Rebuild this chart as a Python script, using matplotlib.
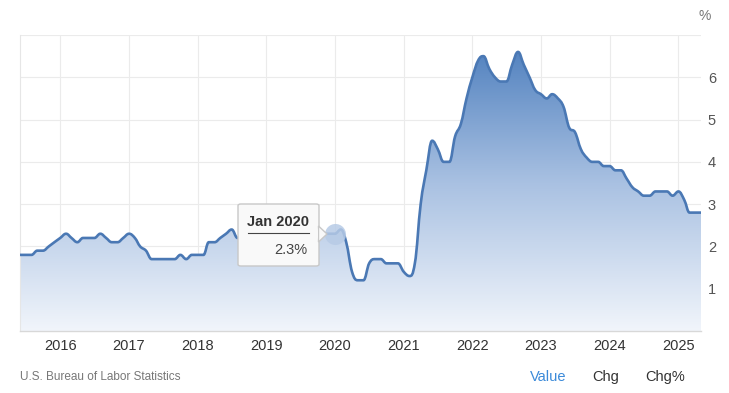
import numpy as np
import pandas as pd
import matplotlib
matplotlib.use("Agg")
import matplotlib.pyplot as plt
import matplotlib.dates as mdates
from matplotlib.colors import LinearSegmentedColormap
from matplotlib.patches import Polygon, FancyBboxPatch, PathPatch
from matplotlib.path import Path

plt.rcParams['font.family'] = ['Liberation Sans', 'DejaVu Sans']

# US core inflation rate, monthly, Jun 2015 - May 2025 (%)
start_month = "2015-06-01"
values = [
    1.8, 1.8, 1.8, 1.9, 1.9, 2.0, 2.1,                              # 2015 Jun-Dec
    2.2, 2.3, 2.2, 2.1, 2.2, 2.2, 2.2, 2.3, 2.2, 2.1, 2.1, 2.2,     # 2016
    2.3, 2.2, 2.0, 1.9, 1.7, 1.7, 1.7, 1.7, 1.7, 1.8, 1.7, 1.8,     # 2017
    1.8, 1.8, 2.1, 2.1, 2.2, 2.3, 2.4, 2.2, 2.2, 2.1, 2.2, 2.2,     # 2018
    2.2, 2.1, 2.0, 2.1, 2.0, 2.1, 2.2, 2.4, 2.4, 2.3, 2.3, 2.3,     # 2019
    2.3, 2.4, 2.1, 1.4, 1.2, 1.2, 1.6, 1.7, 1.7, 1.6, 1.6, 1.6,     # 2020
    1.4, 1.3, 1.6, 3.0, 3.8, 4.5, 4.3, 4.0, 4.0, 4.6, 4.9, 5.5,     # 2021
    6.0, 6.4, 6.5, 6.2, 6.0, 5.9, 5.9, 6.3, 6.6, 6.3, 6.0, 5.7,     # 2022
    5.6, 5.5, 5.6, 5.5, 5.3, 4.8, 4.7, 4.3, 4.1, 4.0, 4.0, 3.9,     # 2023
    3.9, 3.8, 3.8, 3.6, 3.4, 3.3, 3.2, 3.2, 3.3, 3.3, 3.3, 3.2,     # 2024
    3.3, 3.1, 2.8, 2.8, 2.8,                                        # 2025 Jan-May
]
dates = pd.date_range(start_month, periods=len(values), freq="MS")
year_ticks = list(range(2016, 2026))
y_ticks = [1, 2, 3, 4, 5, 6]
tooltip_date = "2020-01-01"
tooltip_label = "Jan 2020"
tooltip_value = 2.3
source = "U.S. Bureau of Labor Statistics"
buttons = ["Value", "Chg", "Chg%"]


def spline_path(x, y, smoothing=1.5):
    """Bezier path through the points, highcharts-style spline."""
    n = len(x)
    verts = [(x[0], y[0])]
    codes = [Path.MOVETO]
    left = [(x[0], y[0])] * n
    right = [(x[-1], y[-1])] * n
    for i in range(1, n - 1):
        lx = (smoothing * x[i] + x[i - 1]) / (smoothing + 1)
        ly = (smoothing * y[i] + y[i - 1]) / (smoothing + 1)
        rx = (smoothing * x[i] + x[i + 1]) / (smoothing + 1)
        ry = (smoothing * y[i] + y[i + 1]) / (smoothing + 1)
        corr = ((ry - ly) * (rx - x[i])) / (rx - lx) + y[i] - ry
        ly += corr
        ry += corr
        if ly > max(y[i - 1], y[i]):
            ly = max(y[i - 1], y[i]); ry = 2 * y[i] - ly
        elif ly < min(y[i - 1], y[i]):
            ly = min(y[i - 1], y[i]); ry = 2 * y[i] - ly
        if ry > max(y[i + 1], y[i]):
            ry = max(y[i + 1], y[i]); ly = 2 * y[i] - ry
        elif ry < min(y[i + 1], y[i]):
            ry = min(y[i + 1], y[i]); ly = 2 * y[i] - ry
        left[i] = (lx, ly)
        right[i] = (rx, ry)
    right[0] = (x[0], y[0])
    left[-1] = (x[-1], y[-1])
    for i in range(1, n):
        verts += [right[i - 1], left[i], (x[i], y[i])]
        codes += [Path.CURVE4] * 3
    return verts, codes


W, H = 729, 393
fig = plt.figure(figsize=(W / 100, H / 100), dpi=100)
x0, x1, ytop, ybot = 20, 701, 35, 331
ax = fig.add_axes([x0 / W, 1 - ybot / H, (x1 - x0) / W, (ybot - ytop) / H])

xs = mdates.date2num(dates)
ys = np.array(values)
ax.set_xlim(xs[0], xs[-1])
ax.set_ylim(0, 7)

verts, codes = spline_path(list(xs), list(ys))
line_path = Path(verts, codes)
area_path = Path(verts + [(xs[-1], 0), (xs[0], 0), (xs[0], 0)],
                 codes + [Path.LINETO, Path.LINETO, Path.CLOSEPOLY])

# gradient fill under the line
cmap = LinearSegmentedColormap.from_list("fill", ["#f1f5fb", "#a9c1e2", "#4a7cbc"])
grad = np.linspace(0, 1, 256).reshape(-1, 1)
im = ax.imshow(grad, cmap=cmap, aspect="auto", origin="lower",
               extent=[xs[0], xs[-1], 0, 7], zorder=1)
area = PathPatch(area_path, facecolor="none", edgecolor="none", transform=ax.transData)
ax.add_patch(area)
im.set_clip_path(area)

ax.add_patch(PathPatch(line_path, facecolor="none", edgecolor="#4a78b4", lw=1.9,
                       zorder=3, joinstyle="round", capstyle="round"))

# grid
ax.set_yticks(y_ticks + [7])
ax.set_xticks(mdates.date2num([pd.Timestamp(f"{y}-01-01") for y in year_ticks]))
ax.grid(True, color="#ebebeb", lw=0.8, zorder=0)
ax.set_axisbelow(True)
ax.tick_params(length=0)
ax.set_xticklabels([str(y) for y in year_ticks], fontsize=10.5, color="#333333")
ax.yaxis.tick_right()
ax.set_yticklabels([str(v) for v in y_ticks] + [""], fontsize=10.5, color="#555555")
ax.tick_params(axis="x", pad=6)
ax.tick_params(axis="y", pad=5)
for s in ["top", "right"]:
    ax.spines[s].set_visible(False)
ax.spines["left"].set_color("#e6e6e6")
ax.spines["left"].set_linewidth(0.8)
ax.spines["bottom"].set_color("#d8d8d8")
ax.spines["bottom"].set_linewidth(1)

fig.text(705 / W, 1 - 16 / H, "%", fontsize=10, color="#777777", ha="center", va="center")

# hover marker
tx = mdates.date2num(pd.Timestamp(tooltip_date))
ax.scatter([tx], [tooltip_value], s=230, color="#b7cbe6", alpha=0.85, zorder=4, lw=0)

# tooltip box
def fx(p):
    return p / W

def fy(p):
    return 1 - p / H

bx0, bx1, by0, by1 = 238, 319, 204, 266
box = FancyBboxPatch((fx(bx0), fy(by1)), fx(bx1) - fx(bx0), fy(by0) - fy(by1),
                     boxstyle="round,pad=0,rounding_size=0.004", transform=fig.transFigure,
                     facecolor="#f9f9f9", edgecolor="#c8c8c8", lw=1, zorder=10)
fig.patches.append(box)
ptr = Polygon([[fx(bx1 - 0.5), fy(226)], [fx(bx1 + 8), fy(234)], [fx(bx1 - 0.5), fy(242)]],
              closed=True, transform=fig.transFigure, facecolor="#f9f9f9",
              edgecolor="#c8c8c8", lw=1, zorder=11)
fig.patches.append(ptr)
fig.patches.append(Polygon([[fx(bx1 - 1), fy(227)], [fx(bx1 - 1), fy(241)], [fx(bx1 - 3), fy(234)]],
                           closed=True, transform=fig.transFigure, facecolor="#f9f9f9",
                           edgecolor="none", zorder=12))
fig.text(fx(278), fy(222), tooltip_label, fontsize=10.5, fontweight="bold",
         color="#333333", ha="center", va="center", zorder=13)
fig.lines.append(plt.Line2D([fx(248), fx(309)], [fy(233), fy(233)],
                            transform=fig.transFigure, color="#444444", lw=0.8, zorder=13))
fig.text(fx(307), fy(250), f"{tooltip_value}%", fontsize=10.5, color="#444444",
         ha="right", va="center", zorder=13)

# footer
fig.text(fx(20), fy(377), source, fontsize=8.5, color="#777777", ha="left", va="center")
for label, cx, col in zip(buttons, [548, 606, 665], ["#3b8ad9", "#333333", "#333333"]):
    fig.text(fx(cx), fy(377), label, fontsize=10.5, color=col, ha="center", va="center")

fig.savefig("out.png", dpi=100, facecolor="white")
